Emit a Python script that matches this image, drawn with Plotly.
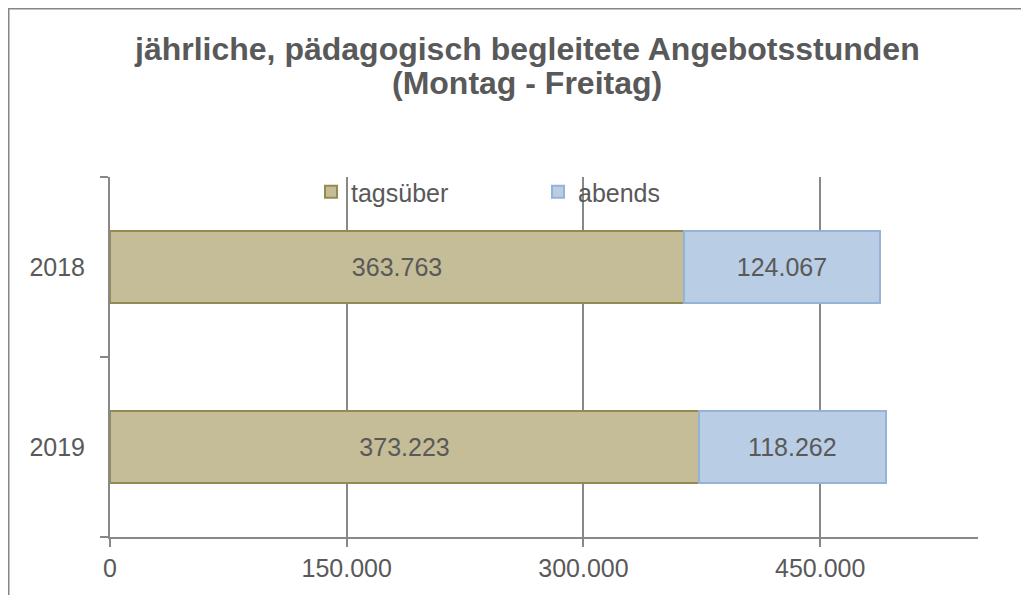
import plotly.graph_objects as go

years = ["2018", "2019"]
tagsueber = [363763, 373223]
abends = [124067, 118262]
series_names = ["tagsüber", "abends"]
x_ticks = [0, 150000, 300000, 450000]
title_lines = ["jährliche, pädagogisch begleitete Angebotsstunden", "(Montag - Freitag)"]

# page body has an 8px margin, so the figure is placed at (8, 8)
OFF = 8
W, H = 1029 - OFF, 595 - OFF
L, R, T, B = 110 - OFF, 51, 177 - OFF, 58
pw = W - L - R
ph = H - T - B

def px_x(p):  # page pixel -> paper
    return (p - OFF - L) / pw

def px_y(p):
    return (H - B - (p - OFF)) / ph

txt = "#595959"
font = "Liberation Sans, Arial, sans-serif"

fig = go.Figure()
fig.add_trace(go.Bar(
    y=years, x=tagsueber, name=series_names[0], orientation="h",
    marker=dict(color="#C4BD97", line=dict(color="#948A54", width=2)),
    texttemplate="%{x:,d}", textposition="inside", insidetextanchor="middle",
    textfont=dict(color=txt, size=25, family=font),
))
fig.add_trace(go.Bar(
    y=years, x=abends, name=series_names[1], orientation="h",
    marker=dict(color="#B9CDE5", line=dict(color="#95B3D7", width=2)),
    texttemplate="%{x:,d}", textposition="inside", insidetextanchor="middle",
    textfont=dict(color=txt, size=25, family=font),
))

fig.update_layout(
    width=W, height=H,
    margin=dict(l=L, r=R, t=T, b=B, pad=0),
    barmode="stack", bargap=0.6,
    separators=",.",
    plot_bgcolor="white", paper_bgcolor="white",
    font=dict(family=font, color=txt, size=25),
    legend=dict(
        orientation="h", x=px_x(311), xanchor="left", y=px_y(192), yanchor="middle",
        bgcolor="rgba(0,0,0,0)", font=dict(size=25, color=txt, family=font),
        traceorder="normal", itemwidth=30, entrywidth=182, entrywidthmode="pixels",
    ),
    showlegend=True,
)

for line, yc in zip(title_lines, [49.5, 83]):
    fig.add_annotation(
        text=f"<b>{line}</b>", xref="paper", yref="paper",
        x=px_x(526.5), y=px_y(yc), xanchor="center", yanchor="middle",
        showarrow=False, font=dict(size=32, color=txt, family=font),
    )

fig.update_xaxes(
    range=[0, 550000], tickvals=x_ticks, tickformat=",d",
    showgrid=True, gridcolor="#888888", gridwidth=2,
    showline=True, linecolor="#888888", linewidth=2,
    ticks="outside", ticklen=8, tickwidth=2, tickcolor="#888888",
    tickfont=dict(size=25, color=txt, family=font), zeroline=False,
)
fig.update_yaxes(
    type="category", categoryorder="array", categoryarray=["2019", "2018"],
    range=[-0.5, 1.5],
    showgrid=False, showline=True, linecolor="#888888", linewidth=2,
    ticks="outside", ticklen=8, tickwidth=2, tickcolor="#888888", tickson="boundaries",
    tickfont=dict(size=25, color=txt, family=font), ticklabelstandoff=18,
)

fig.add_shape(type="line", xref="paper", yref="paper",
              x0=px_x(8.5), x1=px_x(8.5), y0=px_y(8), y1=px_y(600),
              line=dict(color="#868686", width=2))
fig.add_shape(type="line", xref="paper", yref="paper",
              x0=px_x(8), x1=px_x(1035), y0=px_y(8.5), y1=px_y(8.5),
              line=dict(color="#868686", width=2))

fig.write_html("out.html")
